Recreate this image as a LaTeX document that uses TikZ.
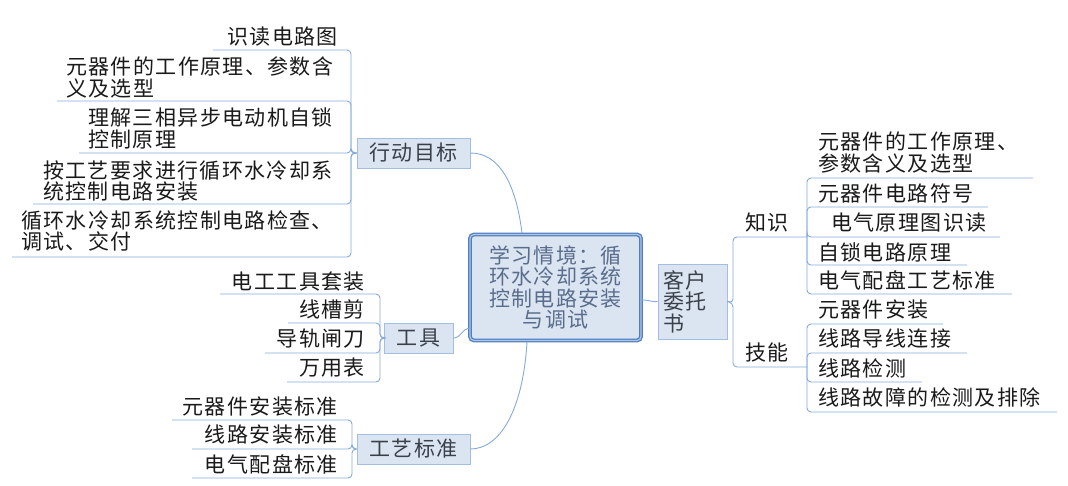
\documentclass[tikz,border=0pt]{standalone}
\usepackage{fontspec}
\newfontfamily\cjk[LetterSpace=6.5]{Noto Sans CJK SC}
\usetikzlibrary{calc}
\definecolor{linec}{HTML}{86AADB}
\definecolor{boxfill}{HTML}{DBE5F1}
\definecolor{boxdraw}{HTML}{A3BEE2}
\definecolor{maindraw}{HTML}{4F7FC0}
\definecolor{maintext}{HTML}{5A6D8C}
\definecolor{txtc}{HTML}{1A1A1A}
\definecolor{boxtext}{HTML}{3A404A}
\begin{document}
\begin{tikzpicture}[x=1pt,y=-1pt,
  txt/.style={font=\cjk\fontsize{21}{21.5}\selectfont, inner sep=0pt, text=txtc, align=left},
  sbox/.style={txt, fill=boxfill, draw=boxdraw, line width=0.9pt, text=boxtext, align=center},
  ln/.style={draw=linec, line width=0.9pt, rounded corners=4pt},
  cv/.style={draw=linec, line width=0.9pt}]
\useasboundingbox[fill=white] (0,0) rectangle (1068,486);

% central node
\node[txt, draw=maindraw, line width=1.3pt, double=boxfill!70!maindraw, double distance=1.2pt,
  fill=boxfill, rounded corners=4pt, minimum width=171pt, minimum height=106pt,
  text=maintext, align=center] (main) at (555.5,287.5)
  {学习情境：循\\环水冷却系统\\控制电路安装\\与调试};

% first-level boxes
\node[sbox, minimum width=113pt, minimum height=30pt] (L1) at (413.5,153) {行动目标};
\node[sbox, minimum width=69pt, minimum height=30pt] (L2) at (418.5,338) {工具};
\node[sbox, minimum width=113pt, minimum height=30pt] (L3) at (413.5,449) {工艺标准};
\node[sbox, minimum width=69pt, minimum height=75pt, text width=58pt, align=left] (R1) at (692.5,301.5) {客户\\委托\\书};

% connectors from the central node
\coordinate (m1) at (522,233);
\coordinate (m2) at (469,328);
\coordinate (m3) at (642,300);
\coordinate (m4) at (527,342);
\draw[cv] (m1) .. controls (516,185) and (500,153) .. (L1.east);
\draw[cv] (m2) .. controls (462,329) and (461,338) .. (L2.east);
\draw[cv] (m3) .. controls (650,300) and (650,302) .. (R1.west);
\draw[cv] (m4) .. controls (523,410) and (500,449) .. (L3.east);

% ---- 行动目标 children
\node[txt, anchor=east] (a1) at (338,36.7) {识读电路图};
\node[txt, anchor=west] (a2) at (66,77.3) {元器件的工作原理、参数含\\义及选型};
\node[txt, anchor=west] (a3) at (88,128.5) {理解三相异步电动机自锁\\控制原理};
\node[txt, anchor=west] (a4) at (43,181) {按工艺要求进行循环水冷却系\\统控制电路安装};
\node[txt, anchor=west] (a5) at (21,231) {循环水冷却系统控制电路检查、\\调试、交付};
\coordinate (a1u) at (213,50);
\coordinate (a2u) at (57,101);
\coordinate (a3u) at (79,153);
\coordinate (a4u) at (33,204);
\coordinate (a5u) at (12,257);
\coordinate (j1) at (351,153);
\foreach \c in {a1u,a2u,a3u,a4u,a5u}{\draw[ln] (L1.west) -- (j1) |- (\c);}

% ---- 工具 children
\node[txt, anchor=east] (b1) at (365,282) {电工工具套装};
\node[txt, anchor=east] (b2) at (365,310) {线槽剪};
\node[txt, anchor=east] (b3) at (365,339) {导轨闸刀};
\node[txt, anchor=east] (b4) at (365,368) {万用表};
\coordinate (b1u) at (220,294);
\coordinate (b2u) at (288,323);
\coordinate (b3u) at (265,353);
\coordinate (b4u) at (287,382);
\coordinate (j2) at (380,338);
\foreach \c in {b1u,b2u,b3u,b4u}{\draw[ln] (L2.west) -- (j2) |- (\c);}

% ---- 工艺标准 children
\node[txt, anchor=east] (c1) at (338,407) {元器件安装标准};
\node[txt, anchor=east] (c2) at (338,435) {线路安装标准};
\node[txt, anchor=east] (c3) at (338,464) {电气配盘标准};
\coordinate (c1u) at (172,420);
\coordinate (c2u) at (192,449);
\coordinate (c3u) at (192,478);
\coordinate (j3) at (352,449);
\foreach \c in {c1u,c2u,c3u}{\draw[ln] (L3.west) -- (j3) |- (\c);}

% ---- 客户委托书 children
\node[txt] (zs) at (767,222) {知识};
\node[txt] (jn) at (767,353) {技能};
\coordinate (j4) at (733,303);
\coordinate (zsu) at (807,237);
\coordinate (jnu) at (807,367);
\draw[ln] (R1.east) -- (j4) |- (zsu);
\draw[ln] (R1.east) -- (j4) |- (jnu);

\node[txt, anchor=west] (k1) at (818,152.3) {元器件的工作原理、\\参数含义及选型};
\node[txt, anchor=west] (k2) at (818,193) {元器件电路符号};
\node[txt, anchor=west] (k3) at (831,223) {电气原理图识读};
\node[txt, anchor=west] (k4) at (818,252) {自锁电路原理};
\node[txt, anchor=west] (k5) at (818,280) {电气配盘工艺标准};
\coordinate (k1u) at (1033,178);
\coordinate (k2u) at (988,207);
\coordinate (k3u) at (1000,237);
\coordinate (k4u) at (967,265);
\coordinate (k5u) at (1012,294);
\foreach \c in {k1u,k2u,k3u,k4u,k5u}{\draw[ln] (zsu) |- (\c);}

\node[txt, anchor=west] (s1) at (818,310) {元器件安装};
\node[txt, anchor=west] (s2) at (818,339) {线路导线连接};
\node[txt, anchor=west] (s3) at (818,368) {线路检测};
\node[txt, anchor=west] (s4) at (818,397) {线路故障的检测及排除};
\coordinate (s1u) at (943,324);
\coordinate (s2u) at (967,353);
\coordinate (s3u) at (922,382);
\coordinate (s4u) at (1057,412);
\foreach \c in {s1u,s2u,s3u,s4u}{\draw[ln] (jnu) |- (\c);}
\end{tikzpicture}
\end{document}
